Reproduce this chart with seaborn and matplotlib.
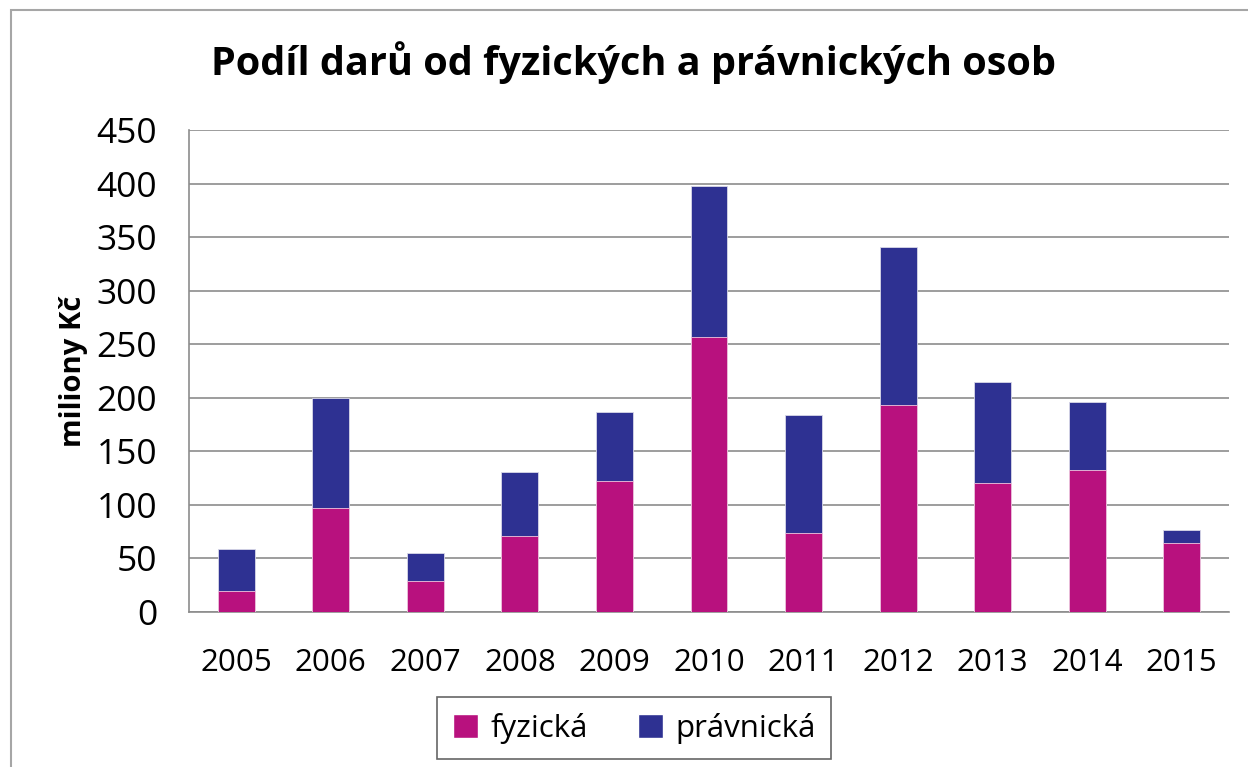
import matplotlib
matplotlib.use("Agg")
import matplotlib.pyplot as plt
import seaborn as sns
import pandas as pd
from matplotlib.patches import Rectangle, Patch

years = ["2005", "2006", "2007", "2008", "2009", "2010", "2011", "2012", "2013", "2014", "2015"]
fyzicka = [20, 97, 29, 71, 122, 257, 74, 193, 120, 133, 64]
pravnicka = [39, 103, 26, 60, 65, 141, 110, 148, 95, 63, 13]
yticks = [0, 50, 100, 150, 200, 250, 300, 350, 400, 450]

sns.set_theme(style="white")
plt.rcParams['font.family'] = ['Open Sans', 'DejaVu Sans']
plt.rcParams['text.color'] = 'black'
plt.rcParams['xtick.color'] = 'black'
plt.rcParams['ytick.color'] = 'black'
plt.rcParams['axes.labelcolor'] = 'black'

c_fyz = "#B8117E"
c_prav = "#2E3192"

df = pd.DataFrame({"rok": years, "fyzicka": fyzicka, "pravnicka": pravnicka})
df["celkem"] = df["fyzicka"] + df["pravnicka"]

fig = plt.figure(figsize=(12.48, 7.67), dpi=100)
ax = fig.add_axes([189/1248, 1-612/767, (1229-189)/1248, (612-130)/767])

sns.barplot(data=df, x="rok", y="celkem", color=c_prav, width=0.39, ax=ax,
            saturation=1, edgecolor="#d8d8e8", linewidth=0.6, zorder=2)
sns.barplot(data=df, x="rok", y="fyzicka", color=c_fyz, width=0.39, ax=ax,
            saturation=1, edgecolor="#f0c8e0", linewidth=0.6, zorder=3)

ax.set_ylim(0, 450)
ax.set_xlim(-0.5, len(years) - 0.5)
ax.set_yticks(yticks)
ax.set_yticklabels([str(v) for v in yticks], fontsize=25.5)
ax.set_xticks(range(len(years)))
ax.set_xticklabels(years, fontsize=22.5)
ax.set_xticks([i - 0.5 for i in range(len(years) + 1)], minor=True)
ax.tick_params(axis="x", which="major", length=0, pad=26, colors="black")
ax.tick_params(axis="x", which="minor", length=11, width=1.2, color="#8c8c8c", direction="out")
ax.tick_params(axis="y", which="major", length=11, width=1.2, color="#8c8c8c", direction="out",
               pad=12, labelcolor="black")
ax.yaxis.grid(True, color="#8c8c8c", linewidth=1.2, zorder=0)
ax.set_axisbelow(True)
for s in ["top", "right"]:
    ax.spines[s].set_visible(False)
for s in ["left", "bottom"]:
    ax.spines[s].set_color("#8c8c8c")
    ax.spines[s].set_linewidth(1.2)

ax.set_xlabel("")
ax.set_ylabel("miliony Kč", fontsize=21, fontweight="bold", color="black")
ax.yaxis.set_label_coords(-0.097, 0.5)

fig.text(0.508, 1-63/767, "Podíl darů od fyzických a právnických osob",
         ha="center", va="center", fontsize=28.5, fontweight="bold", color="black")

handles = [Patch(facecolor=c_fyz, label="fyzická"), Patch(facecolor=c_prav, label="právnická")]
leg = fig.legend(handles=handles, loc="center", bbox_to_anchor=(634/1248, 1-728/767),
                 ncol=2, fontsize=22.5, frameon=True, fancybox=False, edgecolor="#404040",
                 handlelength=0.8, handleheight=0.8, columnspacing=1.6, handletextpad=0.4,
                 borderpad=0.5, borderaxespad=0)
leg.get_frame().set_linewidth(1.2)
for t in leg.get_texts():
    t.set_color("black")

fig.patches.append(Rectangle((11/1248, -0.1), 1.2, 1 - 10/767 + 0.1, transform=fig.transFigure,
                             fill=False, edgecolor="#a6a6a6", linewidth=1.5))

fig.savefig("out.png", dpi=100)
